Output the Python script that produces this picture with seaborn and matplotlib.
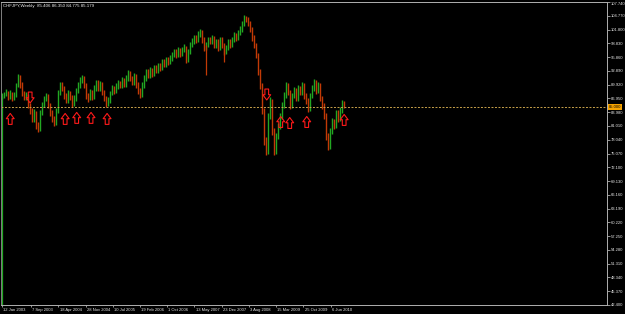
import numpy as np
import pandas as pd
import matplotlib
matplotlib.use("Agg")
import matplotlib.pyplot as plt
import matplotlib.dates as mdates
import matplotlib.transforms as mtrans
from matplotlib.path import Path
import seaborn as sns

# ---------------- data ----------------
symbol_title = "CHFJPY,Weekly"
last_ohlc = [85.406, 86.350, 84.775, 85.179]

first_date = "2003-01-12"
last_date = "2010-09-22"

closes = [
    87.57, 87.79, 88.23, 87.14, 88.01, 86.92, 87.57, 89.77, 91.74, 89.99,
    88.01, 87.14, 87.57, 85.38, 84.29, 82.53, 83.85, 81.00, 80.34, 83.85,
    85.60, 86.92, 87.35, 85.38, 83.85, 82.53, 81.66, 84.29, 88.23, 89.77,
    89.11, 87.57, 86.48, 88.01, 87.14, 85.82, 86.92, 88.67, 89.77, 90.86,
    91.30, 89.77, 87.57, 86.92, 88.23, 87.35, 89.11, 90.42, 89.11, 89.99,
    88.23, 86.92, 85.82, 86.48, 88.01, 89.11, 88.67, 89.55, 90.20, 89.77,
    90.86, 89.99, 91.30, 92.40, 91.30, 90.42, 91.74, 89.99, 88.67, 87.79,
    89.77, 91.30, 92.62, 91.96, 93.05, 92.18, 93.49, 93.05, 93.93, 93.49,
    94.81, 94.37, 95.25, 94.81, 95.70, 96.34, 97.00, 96.34, 97.44, 96.56,
    97.44, 97.88, 95.25, 97.00, 98.53, 99.19, 100.07, 99.63, 100.73, 101.16,
    99.63, 97.88, 98.53, 99.63, 99.19, 100.07, 98.53, 99.19, 97.88, 99.63,
    98.53, 97.00, 97.88, 99.19, 98.53, 99.63, 100.51, 100.07, 101.16, 101.82,
    102.92, 104.23, 104.01, 103.14, 101.82, 100.07, 98.53, 96.34, 92.62, 89.77,
    84.29, 77.71, 75.52, 83.19, 86.48, 79.90, 75.52, 78.81, 81.00, 83.19,
    85.38, 87.57, 89.77, 88.23, 85.38, 87.57, 88.67, 86.92, 89.11, 88.23,
    89.77, 87.57, 86.48, 84.72, 87.57, 89.11, 90.42, 88.67, 89.77, 86.92,
    85.38, 83.19, 78.81, 76.61, 79.90, 82.09, 81.00, 83.85, 82.53, 84.29,
    85.82, 85.18,
]
highs = [
    88.2, 88.4, 88.9, 88.6, 88.7, 88.4, 88.3, 90.3, 92.3, 92.0,
    90.4, 88.6, 88.4, 88.0, 86.0, 84.9, 84.6, 84.3, 81.9, 84.4,
    86.2, 87.5, 88.1, 87.8, 85.9, 84.4, 83.1, 84.9, 88.8, 90.5,
    90.4, 89.6, 88.1, 88.7, 88.5, 87.6, 87.6, 89.2, 90.4, 91.5,
    92.0, 91.8, 90.2, 88.2, 88.9, 88.8, 89.8, 91.0, 90.9, 90.7,
    90.5, 88.7, 87.4, 87.2, 88.6, 89.8, 89.7, 90.2, 90.9, 90.8,
    91.5, 91.4, 91.9, 93.0, 92.9, 91.8, 92.4, 92.2, 90.5, 89.2,
    90.4, 91.9, 93.2, 93.2, 93.7, 93.6, 94.1, 94.1, 94.6, 94.5,
    95.4, 95.4, 95.9, 95.8, 96.4, 97.0, 97.7, 97.6, 98.1, 97.9,
    98.0, 98.6, 98.3, 97.6, 99.2, 99.9, 100.7, 100.7, 101.4, 101.9,
    101.6, 100.1, 99.2, 100.3, 100.2, 100.7, 100.5, 99.8, 99.7, 100.2,
    100.1, 99.0, 98.5, 99.8, 99.8, 100.3, 101.2, 101.1, 101.8, 102.5,
    103.6, 104.9, 104.8, 104.5, 103.6, 102.3, 100.6, 99.0, 96.8, 93.2,
    90.3, 84.8, 78.6, 83.9, 87.2, 86.9, 80.5, 79.5, 81.7, 83.9,
    86.1, 88.3, 90.5, 90.3, 88.7, 88.2, 89.4, 89.2, 89.8, 89.7,
    90.4, 90.3, 88.1, 87.0, 88.2, 89.8, 91.1, 90.9, 90.4, 90.2,
    87.4, 85.9, 83.7, 79.4, 80.6, 82.8, 82.6, 84.5, 84.4, 85.0,
    86.5, 86.35,
]
lows = [
    86.9, 87.0, 87.4, 86.6, 86.8, 86.3, 86.5, 87.2, 89.4, 89.3,
    87.5, 86.5, 86.6, 84.8, 83.6, 81.9, 81.8, 80.4, 79.6, 79.9,
    83.3, 85.1, 86.3, 84.8, 83.1, 81.8, 80.9, 81.2, 83.9, 87.7,
    88.5, 86.9, 85.9, 86.0, 86.5, 85.1, 85.4, 86.4, 88.2, 89.3,
    90.3, 89.1, 86.9, 86.2, 86.5, 86.7, 86.9, 88.6, 88.5, 88.6,
    87.6, 86.3, 85.2, 85.3, 86.0, 87.6, 88.0, 88.1, 89.0, 89.1,
    89.3, 89.4, 89.5, 90.8, 90.7, 89.8, 89.9, 89.3, 88.0, 87.1,
    87.3, 89.2, 90.8, 91.3, 91.4, 91.5, 91.7, 92.4, 92.5, 92.8,
    93.0, 93.7, 93.8, 94.1, 94.3, 95.1, 95.8, 95.6, 95.8, 95.9,
    96.0, 96.9, 94.5, 94.7, 96.5, 98.0, 98.6, 98.9, 99.1, 100.1,
    99.0, 97.2, 97.3, 98.0, 98.6, 98.7, 97.9, 97.9, 97.2, 97.4,
    97.9, 96.3, 96.5, 97.4, 97.9, 98.0, 99.1, 99.4, 99.6, 100.6,
    101.3, 102.5, 103.4, 102.5, 101.2, 99.4, 97.8, 95.6, 91.9, 89.0,
    83.5, 76.8, 74.7, 75.0, 82.5, 79.1, 74.8, 75.0, 78.2, 80.4,
    82.6, 84.8, 87.0, 87.6, 84.7, 84.8, 87.0, 86.3, 86.4, 87.6,
    87.7, 86.9, 85.8, 84.0, 84.2, 87.0, 88.6, 88.0, 88.1, 86.3,
    84.7, 82.5, 78.0, 75.9, 76.1, 79.3, 80.3, 80.5, 81.8, 82.0,
    83.7, 84.78,
]

spike_dates = ["2003-01-12", "2007-08-12", "2008-01-13"]
spike_lows = [42.40, 91.96, 94.81]
spike_highs = [87.57, 98.53, 97.88]
spike_up = [True, False, False]

level = 85.000

up_arrow_dates = ["2003-03-19", "2004-06-13", "2004-09-16", "2005-01-12",
                  "2005-05-24", "2009-04-22", "2009-07-05", "2009-11-22",
                  "2010-09-26"]
up_arrow_prices = [82.53, 82.53, 82.75, 82.75, 82.53, 81.87, 81.65, 81.87, 82.31]
down_arrow_dates = ["2003-08-30", "2008-12-28"]
down_arrow_prices = [87.14, 87.79]

ytick_values = [107.740, 104.770, 101.800, 98.830, 95.860, 92.890, 89.920,
                86.950, 83.980, 81.010, 78.040, 75.070, 72.100, 69.130,
                66.160, 63.190, 60.220, 57.250, 54.280, 51.310, 48.340,
                45.370, 42.400]
xtick_dates = ["2003-01-12", "2003-09-07", "2004-04-18", "2004-11-28",
               "2005-07-10", "2006-02-19", "2006-10-01", "2007-05-13",
               "2007-12-23", "2008-08-03", "2009-03-15", "2009-10-25",
               "2010-06-06"]
xtick_labels = ["12 Jan 2003", "7 Sep 2003", "18 Apr 2004", "28 Nov 2004",
                "10 Jul 2005", "19 Feb 2006", "1 Oct 2006", "13 May 2007",
                "23 Dec 2007", "3 Aug 2008", "15 Mar 2009", "25 Oct 2009",
                "6 Jun 2010"]

# ---------------- style ----------------
sns.set_style("dark", {"axes.facecolor": "black", "figure.facecolor": "black",
                       "axes.edgecolor": "#b0b0b0", "grid.color": "black"})
plt.rcParams["font.family"] = ["Liberation Sans", "DejaVu Sans"]

UP = "#22a722"
DOWN = "#c23a06"
FS = 3.0

fig = plt.figure(figsize=(6.25, 3.14), dpi=100)
W, H = 625, 314
ax = fig.add_axes([1 / W, (H - 305) / H, (607 - 1) / W, (305 - 2) / H])
ax.set_facecolor("black")

dates = pd.date_range(first_date, last_date, periods=len(closes))
xd = mdates.date2num(dates.to_pydatetime())
c = np.asarray(closes)
opens = np.r_[c[0], c[:-1]]
cols = [UP if cc >= oo else DOWN for oo, cc in zip(opens, c)]
ax.vlines(xd, lows, highs, colors=cols, linewidth=1.0)

sd = mdates.date2num(pd.to_datetime(spike_dates).to_pydatetime())
ax.vlines(sd, spike_lows, spike_highs,
          colors=[UP if u else DOWN for u in spike_up], linewidth=0.9)

# horizontal level line
ax.axhline(level, color="#c9a24a", linestyle=(0, (2.0, 1.6)), linewidth=0.7)

# arrows
up_path = Path([(-0.17, -0.5), (0.17, -0.5), (0.17, 0.02), (0.36, 0.02),
                (0.0, 0.5), (-0.36, 0.02), (-0.17, 0.02), (-0.17, -0.5)],
               closed=True)
down_path = Path([(x, -y) for x, y in up_path.vertices], closed=True)

ud = mdates.date2num(pd.to_datetime(up_arrow_dates).to_pydatetime())
dd = mdates.date2num(pd.to_datetime(down_arrow_dates).to_pydatetime())
sns.scatterplot(x=ud, y=up_arrow_prices, marker=up_path, s=62,
                facecolor="none", edgecolor="#ff1a1a", linewidth=0.8, ax=ax,
                legend=False, zorder=5)
sns.scatterplot(x=dd, y=down_arrow_prices, marker=down_path, s=62,
                facecolor="none", edgecolor="#ff1a1a", linewidth=0.8, ax=ax,
                legend=False, zorder=5)

# axes limits
x0 = mdates.date2num(pd.Timestamp(first_date) - pd.Timedelta(days=10))
x1 = mdates.date2num(pd.Timestamp(first_date) + pd.Timedelta(weeks=711))
ax.set_xlim(x0, x1)
ax.set_ylim(ytick_values[-1], ytick_values[0])

# y axis on right
ax.yaxis.tick_right()
ax.set_yticks(ytick_values)
ax.set_yticklabels([f"{v:.3f}" for v in ytick_values])
ax.tick_params(axis="y", which="both", right=True, left=False, direction="out",
               length=1.8, width=0.5, color="#d0d0d0", labelsize=FS,
               labelcolor="#e8e8e8", pad=0.8)
ylabs = ax.get_yticklabels()
ylabs[0].set_verticalalignment("top")

xt = mdates.date2num(pd.to_datetime(xtick_dates).to_pydatetime())
ax.set_xticks(xt)
ax.set_xticklabels(xtick_labels)
ax.tick_params(axis="x", which="both", bottom=True, direction="out",
               length=1.6, width=0.5, color="#d0d0d0", labelsize=3.0,
               labelcolor="#e8e8e8", pad=0.3)
offset = mtrans.ScaledTranslation(1.2 / 100, 0, fig.dpi_scale_trans)
for lab in ax.get_xticklabels():
    lab.set_horizontalalignment("left")
    lab.set_transform(lab.get_transform() + offset)

ax.grid(False)
for side in ["left", "right", "top", "bottom"]:
    ax.spines[side].set_visible(True)
    ax.spines[side].set_color("#b0b0b0")
    ax.spines[side].set_linewidth(0.7)
ax.spines["left"].set_color("#808080")

# price label box for level
blend = mtrans.blended_transform_factory(ax.transAxes, ax.transData)
ax.text(1.003, level, f"{level:.3f}", transform=blend, ha="left", va="center",
        fontsize=FS, color="black",
        bbox=dict(boxstyle="square,pad=0.25", fc="#f7a400", ec="none"))

# title
ax.text(0.004, 0.992, symbol_title + "  " + " ".join(f"{v:.3f}" for v in last_ohlc),
        transform=ax.transAxes, ha="left", va="top", fontsize=3.2,
        color="#f0f0f0")

fig.savefig("out.png", dpi=100, facecolor="black")
